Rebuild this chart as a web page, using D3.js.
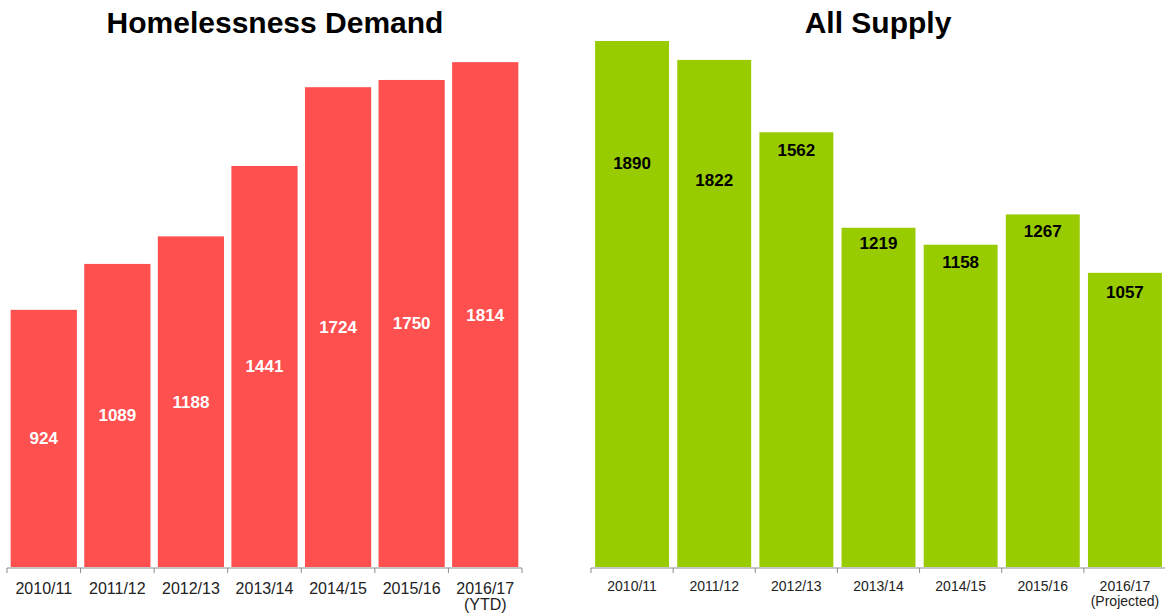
<!DOCTYPE html>
<html>
<head>
<meta charset="utf-8">
<script src="https://cdn.jsdelivr.net/npm/d3@7"></script>
<style>
  body { margin: 0; background: #fff; }
  svg { display: block; font-family: "Liberation Sans", Arial, sans-serif; }
</style>
</head>
<body>
<div id="chart"></div>
<script>
// data
const years = ["2010/11", "2011/12", "2012/13", "2013/14", "2014/15", "2015/16", "2016/17"];
const demandValues = [924, 1089, 1188, 1441, 1724, 1750, 1814];
const supplyValues = [1890, 1822, 1562, 1219, 1158, 1267, 1057];
const demandNotes = ["", "", "", "", "", "", "(YTD)"];
const supplyNotes = ["", "", "", "", "", "", "(Projected)"];

const width = 1165, height = 616;
const baseY = 567;

const svg = d3.select("#chart").append("svg")
    .attr("width", width)
    .attr("height", height);

// shared value scale
const yScale = d3.scaleLinear()
    .domain([0, 1890])
    .range([baseY, 41]);

function drawPanel(opts) {
    const xScale = d3.scaleBand()
        .domain(years)
        .range([opts.x0, opts.x1])
        .paddingInner(0.1)
        .paddingOuter(0.05);

    const g = svg.append("g").attr("class", opts.cls);

    // title
    g.append("text")
        .attr("x", opts.titleX)
        .attr("y", 33)
        .attr("text-anchor", "middle")
        .attr("font-size", 30)
        .attr("font-weight", "bold")
        .attr("fill", "#000")
        .text(opts.title);

    // bars
    g.append("g")
        .selectAll("rect")
        .data(opts.values)
        .enter().append("rect")
        .attr("x", (d, i) => xScale(years[i]))
        .attr("y", d => yScale(d))
        .attr("width", xScale.bandwidth())
        .attr("height", d => baseY - yScale(d))
        .attr("fill", opts.color);

    // value labels
    g.append("g")
        .selectAll("text")
        .data(opts.values)
        .enter().append("text")
        .attr("x", (d, i) => xScale(years[i]) + xScale.bandwidth() / 2)
        .attr("y", (d, i) => opts.labelY(d, i))
        .attr("dy", "0.35em")
        .attr("text-anchor", "middle")
        .attr("font-size", 17)
        .attr("font-weight", "bold")
        .attr("fill", opts.labelColor)
        .text(d => d);

    // axis
    const axis = g.append("g").attr("class", "axis_x");
    axis.append("line")
        .attr("x1", opts.x0)
        .attr("x2", opts.x1)
        .attr("y1", baseY + 1)
        .attr("y2", baseY + 1)
        .attr("stroke", "#8c8c8c")
        .attr("stroke-width", 1);
    const tickXs = d3.range(years.length + 1).map(i => opts.x0 + i * (opts.x1 - opts.x0) / years.length);
    axis.selectAll(".tick")
        .data(tickXs)
        .enter().append("line")
        .attr("class", "tick")
        .attr("x1", d => d).attr("x2", d => d)
        .attr("y1", baseY + 1).attr("y2", baseY + 6)
        .attr("stroke", "#8c8c8c");

    const lbl = axis.selectAll(".lbl")
        .data(years)
        .enter().append("text")
        .attr("class", "lbl")
        .attr("x", d => xScale(d) + xScale.bandwidth() / 2)
        .attr("y", opts.tickLabelY)
        .attr("text-anchor", "middle")
        .attr("font-size", opts.tickFont)
        .attr("fill", "#222");
    lbl.append("tspan").text(d => d);
    lbl.filter((d, i) => opts.notes[i] !== "")
        .append("tspan")
        .attr("x", d => xScale(d) + xScale.bandwidth() / 2)
        .attr("dy", opts.noteDy)
        .text(d => opts.notes[years.indexOf(d)]);
}

drawPanel({
    cls: "demand",
    title: "Homelessness Demand",
    titleX: 275,
    values: demandValues,
    notes: demandNotes,
    x0: 7, x1: 522,
    color: "#ff5050",
    labelColor: "#fff",
    labelY: d => (yScale(d) + baseY) / 2,
    tickLabelY: 594,
    tickFont: 16,
    noteDy: 16
});

// the first two supply labels sit lower in the bar
const supplyLabelDy = [122, 120, 18, 15, 17, 17, 19];
drawPanel({
    cls: "supply",
    title: "All Supply",
    titleX: 878,
    values: supplyValues,
    notes: supplyNotes,
    x0: 591, x1: 1166,
    color: "#99cc00",
    labelColor: "#000",
    labelY: (d, i) => yScale(d) + supplyLabelDy[i],
    tickLabelY: 591,
    tickFont: 14,
    noteDy: 15
});
</script>
</body>
</html>
